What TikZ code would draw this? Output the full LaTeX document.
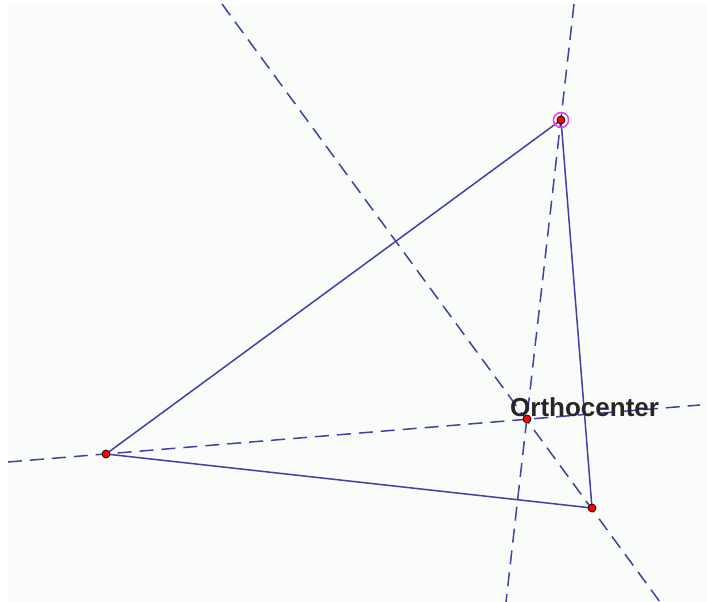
\documentclass[tikz,border=0pt]{standalone}
\usepackage{fontspec}
\setmainfont{Liberation Sans}
\begin{document}
\begin{tikzpicture}[x=1pt,y=-1pt,
  side/.style={draw=linecol,line width=1.5pt},
  altitude/.style={draw=linecol,line width=1.5pt,dash pattern=on 14pt off 8pt},
  vertex/.style={circle,fill=red,draw=black,line width=0.7pt,inner sep=0pt,minimum size=8pt},
  lbl/.style={font=\bfseries\fontsize{26}{26}\selectfont,text=black!85,inner sep=0pt}]
\definecolor{linecol}{RGB}{64,64,168}
\definecolor{bg}{RGB}{250,252,250}
\definecolor{ring}{RGB}{235,60,235}
\fill[white] (0,0) rectangle (707,602);
\fill[bg] (8,4) rectangle (707,602);
\useasboundingbox (0,0) rectangle (707,602);
\coordinate (A) at (106,454);
\coordinate (B) at (592,508);
\coordinate (C) at (561,120);
\coordinate (H) at (527,419);
\coordinate (a1) at (8,462);
\coordinate (a2) at (700,405);
\coordinate (b1) at (222,4);
\coordinate (b2) at (660,602);
\coordinate (c1) at (574,4);
\coordinate (c2) at (506,602);
\draw[altitude] (a1) -- (a2);
\draw[altitude] (b1) -- (b2);
\draw[altitude] (c1) -- (c2);
\draw[side] (A) -- (B) -- (C) -- cycle;
\node[draw=ring,line width=1.5pt,circle,minimum size=15pt,inner sep=0pt] (Cring) at (C) {};
\node[vertex] (vA) at (A) {};
\node[vertex] (vB) at (B) {};
\node[vertex] (vC) at (C) {};
\node[vertex] (vH) at (H) {};
\node[lbl,anchor=base west] (lab) at (510,416) {Orthocenter};
\end{tikzpicture}
\end{document}
